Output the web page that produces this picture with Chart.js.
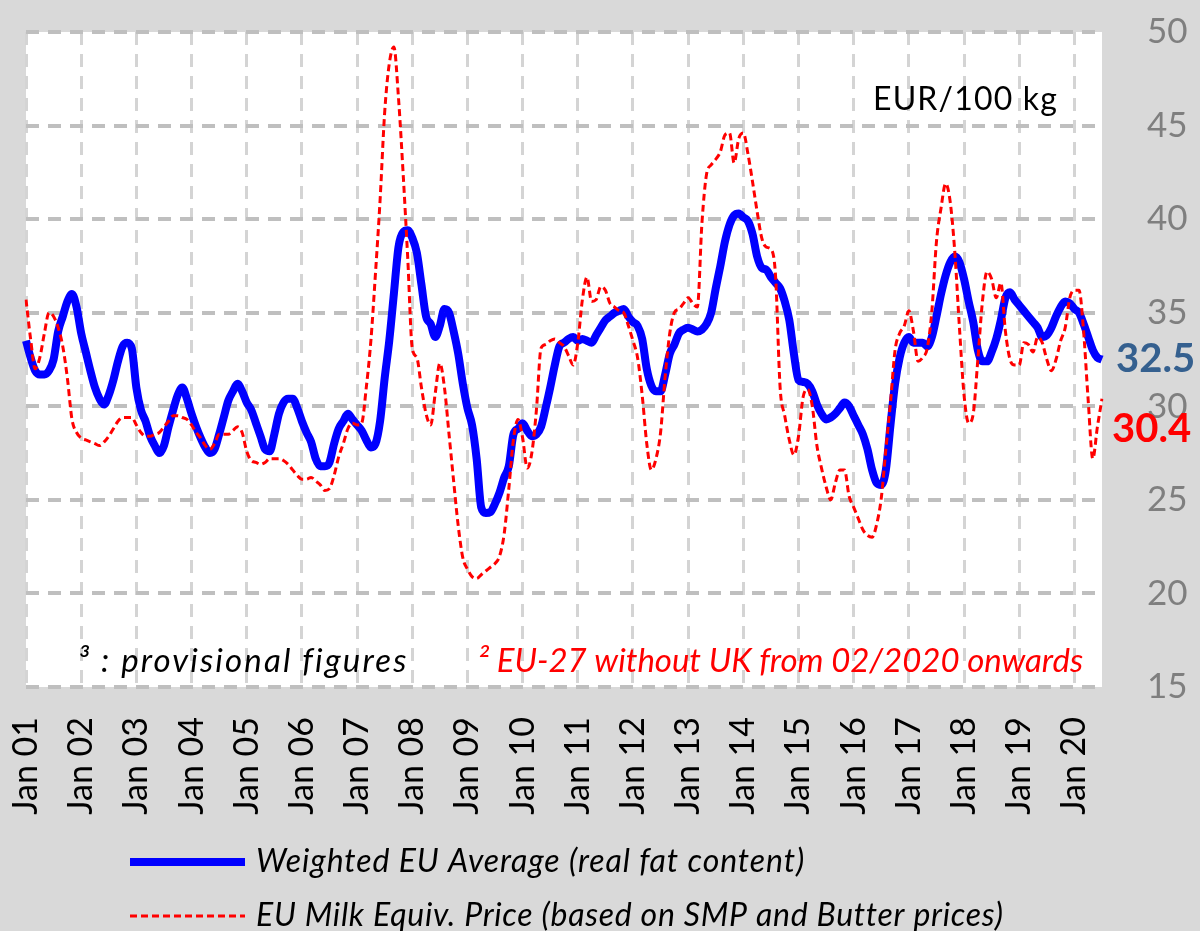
<!DOCTYPE html>
<html lang="en">
<head>
<meta charset="UTF-8">
<title>EU milk prices</title>
<script src="https://cdn.jsdelivr.net/npm/chart.js"></script>
<style>
  html, body { margin: 0; padding: 0; background: #d9d9d9; }
  #box { width: 1200px; height: 931px; }
</style>
</head>
<body>
<div id="box"><canvas id="grafico"></canvas></div>

<script>
// monthly, Jan 2001 .. Jul 2020
var firstYear = 2001;
var monthCount = 235;
var monthNames = ['Jan', 'Feb', 'Mar', 'Apr', 'May', 'Jun', 'Jul', 'Aug', 'Sep', 'Oct', 'Nov', 'Dec'];

// EUR/100 kg
var weightedAvg = [
  33.5, 32.6, 31.9, 31.7, 31.7, 31.9, 32.5, 34.0, 34.8, 35.6,
  36.0, 35.3, 33.9, 32.9, 31.9, 31.0, 30.4, 30.1, 30.6, 31.4,
  32.4, 33.2, 33.4, 33.1, 31.0, 29.8, 29.2, 28.4, 27.9, 27.5,
  27.9, 28.9, 29.8, 30.6, 31.0, 30.4, 29.6, 28.9, 28.3, 27.8,
  27.5, 27.7, 28.5, 29.4, 30.3, 30.8, 31.2, 30.8, 30.2, 29.8,
  29.1, 28.4, 27.7, 27.6, 28.5, 29.6, 30.2, 30.4, 30.4, 29.9,
  29.2, 28.6, 28.1, 27.2, 26.8, 26.8, 27.0, 28.0, 28.8, 29.2,
  29.6, 29.3, 29.0, 28.7, 28.2, 27.8, 28.0, 29.2, 31.5, 33.5,
  36.0, 38.5, 39.3, 39.4, 39.0, 38.2, 36.5, 34.8, 34.4, 33.7,
  34.3, 35.2, 35.0, 34.0, 32.8, 31.2, 29.9, 29.0, 27.2, 24.6,
  24.3, 24.35, 24.8, 25.4, 26.2, 26.8, 28.5, 28.8, 29.1, 28.7,
  28.4, 28.5, 28.9, 29.9, 31.0, 32.2, 33.2, 33.4, 33.6, 33.7,
  33.5, 33.6, 33.5, 33.4, 33.8, 34.2, 34.6, 34.8, 35.0, 35.1,
  35.2, 34.8, 34.5, 34.3, 33.6, 32.0, 31.1, 30.8, 30.8, 31.7,
  32.8, 33.3, 33.9, 34.1, 34.2, 34.1, 34.0, 34.1, 34.4, 35.0,
  36.3, 37.5, 38.8, 39.7, 40.2, 40.3, 40.1, 39.9, 39.2, 38.0,
  37.4, 37.3, 36.9, 36.6, 36.3, 35.6, 34.6, 32.8, 31.4, 31.3,
  31.2, 30.8, 30.1, 29.6, 29.3, 29.4, 29.6, 29.9, 30.2, 30.0,
  29.5, 29.0, 28.5, 27.7, 26.6, 25.9, 25.8, 26.6, 29.0, 31.2,
  32.6, 33.4, 33.7, 33.4, 33.4, 33.4, 33.2, 33.7, 34.8, 36.0,
  37.0, 37.7, 38.0, 37.7, 36.8, 35.6, 34.5, 33.0, 32.4, 32.4,
  32.9, 33.6, 34.6, 35.8, 36.1, 35.7, 35.4, 35.1, 34.8, 34.5,
  34.2, 33.7, 33.8, 34.2, 34.8, 35.3, 35.6, 35.5, 35.2, 35.0,
  34.4, 33.7, 33.0, 32.6, 32.5
];

var milkEquiv = [
  35.7, 33.6, 32.0, 32.6, 33.9, 35.0, 34.8, 34.2, 33.2, 31.5,
  29.3, 28.6, 28.3, 28.2, 28.1, 28.0, 27.9, 28.1, 28.4, 28.8,
  29.2, 29.4, 29.4, 29.4, 29.0, 28.6, 28.4, 28.4, 28.5, 28.6,
  28.9, 29.2, 29.5, 29.5, 29.4, 29.3, 29.0, 28.6, 28.3, 27.9,
  27.7, 28.0, 28.5, 28.5, 28.5, 28.7, 28.9, 28.6, 27.6, 27.1,
  27.0, 26.9, 27.0, 27.2, 27.2, 27.2, 27.1, 26.9, 26.6, 26.3,
  26.1, 26.1, 26.2, 26.0, 25.8, 25.5, 25.6, 26.3, 27.3, 28.0,
  28.8, 29.1, 29.0, 29.1, 31.0, 33.5, 37.1, 41.0, 45.7, 48.3,
  49.2, 46.5, 42.5, 38.0, 33.1, 32.6, 31.0, 29.6, 29.0, 30.7,
  32.3, 31.0, 28.5, 26.0, 23.6, 21.9, 21.3, 20.9, 20.8, 21.0,
  21.2, 21.4, 21.6, 22.0, 23.2, 25.6, 28.2, 29.3, 28.3, 26.7,
  27.5, 29.8, 33.1, 33.3, 33.5, 33.6, 33.4, 33.2, 32.7, 32.2,
  33.4, 35.7, 36.9, 35.6, 35.7, 36.4, 36.2, 35.5, 35.3, 35.1,
  35.0, 34.3, 33.5, 32.6, 30.6, 28.0, 26.6, 27.2, 28.6, 31.6,
  33.9, 35.0, 35.2, 35.5, 35.8, 35.5, 35.3, 39.8, 42.4, 42.9,
  43.2, 43.6, 44.5, 44.6, 43.0, 44.3, 44.6, 43.5, 42.0, 40.4,
  39.0, 38.5, 38.4, 37.0, 31.0, 29.5, 28.2, 27.4, 28.4, 30.5,
  30.9, 30.0, 27.9, 26.7, 25.7, 25.0, 25.9, 26.6, 26.6, 25.2,
  24.6, 24.0, 23.4, 23.1, 23.0, 23.7, 25.1, 27.7, 30.2, 33.0,
  33.9, 34.3, 35.1, 34.0, 32.4, 32.6, 33.1, 35.1, 38.8, 40.6,
  41.9, 40.9, 38.2, 34.2, 30.6, 29.1, 29.6, 32.5, 35.6, 37.2,
  36.8, 35.8, 36.6, 34.0, 32.5, 32.2, 32.2, 33.4, 33.3, 32.9,
  33.7, 33.4, 32.5, 31.9, 32.5, 33.5, 34.2, 35.8, 36.2, 36.2,
  34.0, 30.3, 27.2, 28.9, 30.4
];

var yTicks = [15, 20, 25, 30, 35, 40, 45, 50];

var categories = [];
for (var i = 0; i < monthCount; i++) {
  var yy = firstYear + Math.floor(i / 12);
  categories.push(monthNames[i % 12] + ' ' + String(yy).slice(2));
}

var FONT = 'Lato';

// writes txt starting at x, spread so that it is `largura` px wide
function textoLargura(ctx, txt, x, y, largura) {
  ctx.letterSpacing = '0px';
  var w = ctx.measureText(txt).width;
  var sp = (largura - w) / txt.length;
  ctx.letterSpacing = sp.toFixed(2) + 'px';
  ctx.textAlign = 'left';
  ctx.fillText(txt, x, y);
  ctx.letterSpacing = '0px';
}

// grey page + white plot area
var fundo = {
  id: 'fundo',
  beforeDraw: function (chart) {
    var ctx = chart.ctx, a = chart.chartArea;
    ctx.save();
    ctx.fillStyle = '#d9d9d9';
    ctx.fillRect(0, 0, chart.width, chart.height);
    ctx.fillStyle = '#ffffff';
    ctx.fillRect(a.left, a.top, a.right - a.left, a.bottom - a.top);
    ctx.restore();
  }
};

// notes, end values and the legend under the axis
var textos = {
  id: 'textos',
  afterDraw: function (chart) {
    var ctx = chart.ctx, y = chart.scales.y;
    ctx.save();
    ctx.textBaseline = 'alphabetic';

    ctx.fillStyle = '#000';
    ctx.font = '32px ' + FONT;
    textoLargura(ctx, 'EUR/100 kg', 873, 110, 185);

    ctx.font = 'italic 33px ' + FONT;
    textoLargura(ctx, '\u00b3 : provisional figures', 78, 672, 330);
    ctx.fillStyle = '#ff0000';
    textoLargura(ctx, '\u00b2 EU-27 without UK from 02/2020 onwards', 478, 672, 605);

    // last values
    var lastBlue = weightedAvg[weightedAvg.length - 1];
    var lastRed = milkEquiv[milkEquiv.length - 1];
    ctx.textAlign = 'left';
    ctx.textBaseline = 'middle';
    ctx.font = 'bold 40px ' + FONT;
    ctx.fillStyle = '#35608f';
    ctx.fillText(lastBlue.toFixed(1), 1116, y.getPixelForValue(lastBlue));
    ctx.fillStyle = '#ff0000';
    ctx.fillText(lastRed.toFixed(1), 1112, y.getPixelForValue(lastRed) + 30);

    // legend
    ctx.lineCap = 'butt';
    ctx.strokeStyle = '#0000ff';
    ctx.lineWidth = 8;
    ctx.beginPath();
    ctx.moveTo(130, 862);
    ctx.lineTo(245, 862);
    ctx.stroke();

    ctx.strokeStyle = '#ff0000';
    ctx.lineWidth = 3;
    ctx.setLineDash([7, 4]);
    ctx.beginPath();
    ctx.moveTo(130, 916);
    ctx.lineTo(245, 916);
    ctx.stroke();
    ctx.setLineDash([]);

    ctx.fillStyle = '#000';
    ctx.font = 'italic 32px ' + FONT;
    textoLargura(ctx, 'Weighted EU Average (real fat content)', 256, 862, 549);
    textoLargura(ctx, 'EU Milk Equiv. Price (based on SMP and Butter prices)', 256, 916, 746);
    ctx.restore();
  }
};

var ctx = document.getElementById('grafico');

new Chart(ctx, {
  type: 'line',
  data: {
    labels: categories,
    datasets: [{
      label: 'EU Milk Equiv. Price (based on SMP and Butter prices)',
      data: milkEquiv,
      borderColor: '#ff0000',
      borderWidth: 3,
      borderDash: [7, 4],
      pointRadius: 0,
      cubicInterpolationMode: 'monotone'
    },
    {
      label: 'Weighted EU Average (real fat content)',
      data: weightedAvg,
      borderColor: '#0000ff',
      borderWidth: 8,
      pointRadius: 0,
      cubicInterpolationMode: 'monotone'
    }]
  },
  options: {
    responsive: true,
    maintainAspectRatio: false,
    animation: false,
    layout: { padding: { left: 26, top: 32, right: 0, bottom: 0 } },
    plugins: {
      legend: { display: false },
      tooltip: { enabled: false }
    },
    scales: {
      x: {
        offset: false,
        grid: { color: '#d4d4d4', lineWidth: 3, drawTicks: false },
        border: { display: false, dash: [13, 9] },
        ticks: {
          autoSkip: false,
          minRotation: 90,
          maxRotation: 90,
          padding: 30,
          color: '#000',
          font: { family: FONT, size: 34 },
          callback: function (value, index) {
            return index % 12 === 0 ? this.getLabelForValue(value) : null;
          }
        },
        afterFit: function (scale) {
          scale.height = 244;
          scale.paddingLeft = 0;
          scale.paddingRight = 0;
        }
      },
      y: {
        position: 'right',
        min: 15,
        max: 50,
        grid: { color: '#bfbfbf', lineWidth: 4, drawTicks: false },
        border: { display: false, dash: [13, 9] },
        afterBuildTicks: function (scale) {
          scale.ticks = yTicks.map(function (v) { return { value: v }; });
        },
        ticks: {
          padding: 45,
          color: '#7f7f7f',
          font: { family: FONT, size: 35 }
        },
        afterFit: function (scale) {
          scale.width = 98;
          scale.paddingTop = 0;
          scale.paddingBottom = 0;
        }
      }
    }
  },
  plugins: [fundo, textos]
});
</script>
</body>
</html>
